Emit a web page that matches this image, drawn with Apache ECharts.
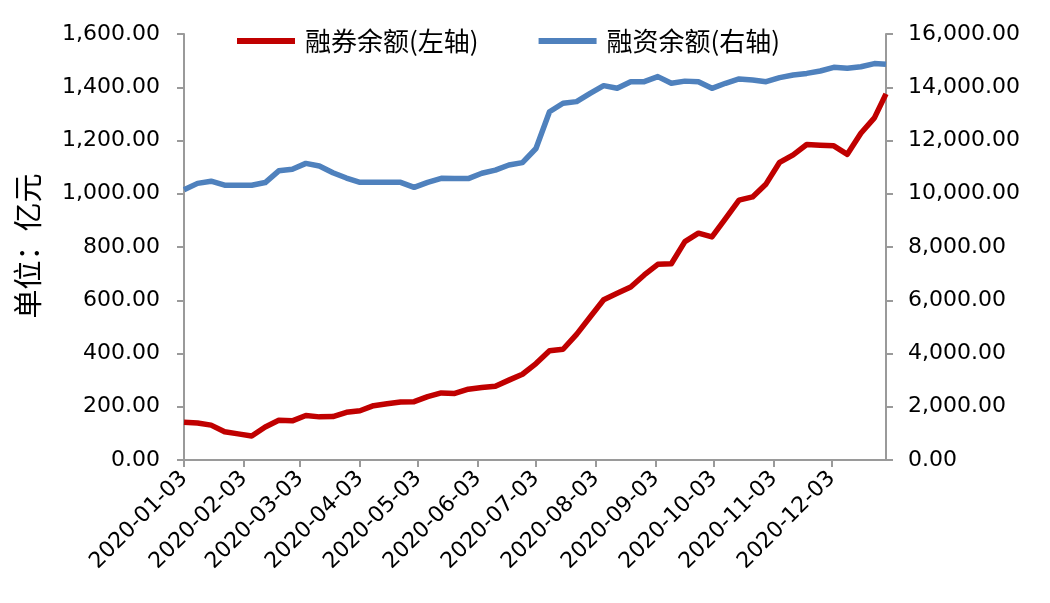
<!DOCTYPE html>
<html>
<head>
<meta charset="utf-8">
<script src="https://cdn.jsdelivr.net/npm/echarts@6/dist/echarts.min.js"></script>
<style>html,body{margin:0;padding:0;background:#fff;}#c{width:1050px;height:603px;}</style>
</head>
<body>
<div id="c"></div>
<script>
// Weekly observation dates
const dates = [
  '2020-01-03','2020-01-10','2020-01-17','2020-01-24','2020-01-31',
  '2020-02-07','2020-02-14','2020-02-21','2020-02-28',
  '2020-03-06','2020-03-13','2020-03-20','2020-03-27',
  '2020-04-03','2020-04-10','2020-04-17','2020-04-24',
  '2020-05-01','2020-05-08','2020-05-15','2020-05-22','2020-05-29',
  '2020-06-05','2020-06-12','2020-06-19','2020-06-26',
  '2020-07-03','2020-07-10','2020-07-17','2020-07-24','2020-07-31',
  '2020-08-07','2020-08-14','2020-08-21','2020-08-28',
  '2020-09-04','2020-09-11','2020-09-18','2020-09-25',
  '2020-10-02','2020-10-09','2020-10-16','2020-10-23','2020-10-30',
  '2020-11-06','2020-11-13','2020-11-20','2020-11-27',
  '2020-12-04','2020-12-11','2020-12-18','2020-12-25','2020-12-31'
];
// 融券余额 (left axis, 亿元)
const shortBalance = [
  142,139,131,106,98,
  90,124,149,147,
  167,162,163,179,
  185,204,211,218,
  219,238,252,250,266,
  272,277,300,322,
  362,410,416,472,537,
  602,626,650,695,
  735,737,820,852,
  838,907,976,988,1037,
  1118,1146,1185,1182,
  1180,1148,1227,1285,1375
];
// 融资余额 (right axis, 亿元)
const marginBalance = [
  10150,10390,10470,10320,10320,
  10320,10420,10860,10920,
  11140,11040,10790,10590,
  10430,10430,10430,10430,
  10240,10430,10580,10570,10570,
  10770,10890,11080,11170,
  11700,13080,13400,13460,13770,
  14060,13960,14210,14210,
  14400,14150,14230,14210,
  13960,14150,14310,14270,14210,
  14360,14460,14520,14610,
  14750,14710,14770,14890,14860
];
const seriesNames = ['融券余额(左轴)', '融资余额(右轴)'];
const yTitle = '单位：亿元';
const axisStart = '2020-01-03';
const axisEnd = '2020-12-31';

// daily category list for a date-like axis
const days = [];
(function(){
  let t = Date.parse(axisStart + 'T00:00:00Z');
  const end = Date.parse(axisEnd + 'T00:00:00Z');
  while (t <= end) { days.push(new Date(t).toISOString().slice(0,10)); t += 86400000; }
})();
const isTickDay = (idx, val) => val.slice(8) === '03';
const fmt = v => v.toLocaleString('en-US', {minimumFractionDigits: 2, maximumFractionDigits: 2});
const axisColor = '#9a9a9a';
const font = 'DejaVu Sans';

const chart = echarts.init(document.getElementById('c'), null, {renderer: 'canvas'});
chart.setOption({
  animation: false,
  backgroundColor: '#ffffff',
  grid: {left: 184, right: 164, top: 34, bottom: 143, containLabel: false},
  legend: {
    left: 232, top: 23,
    icon: 'rect', itemWidth: 58, itemHeight: 6, itemGap: 60,
    textStyle: {fontFamily: 'Noto Sans CJK SC', fontSize: 26, color: '#000', padding: [0,0,0,5]},
    data: seriesNames
  },
  graphic: [{
    type: 'text', x: 28, y: 246, rotation: Math.PI / 2,
    style: {text: yTitle, fontFamily: 'Noto Sans CJK SC', fontSize: 29, fill: '#000', align: 'center', verticalAlign: 'middle'}
  }],
  xAxis: {
    type: 'category', data: days, boundaryGap: false,
    axisLine: {lineStyle: {color: axisColor, width: 2}},
    axisTick: {show: true, interval: isTickDay, length: 7, lineStyle: {color: axisColor, width: 2}},
    axisLabel: {interval: isTickDay, rotate: 45, margin: 15, fontFamily: font, fontSize: 22, color: '#000'},
    splitLine: {show: false}
  },
  yAxis: [{
    type: 'value', min: 0, max: 1600, interval: 200, position: 'left',
    axisLine: {show: true, lineStyle: {color: axisColor, width: 2}},
    axisTick: {show: true, length: 7, lineStyle: {color: axisColor, width: 2}},
    axisLabel: {formatter: fmt, margin: 24, fontFamily: font, fontSize: 22, color: '#000'},
    splitLine: {show: false}
  }, {
    type: 'value', min: 0, max: 16000, interval: 2000, position: 'right',
    axisLine: {show: true, lineStyle: {color: axisColor, width: 2}},
    axisTick: {show: true, length: 7, lineStyle: {color: axisColor, width: 2}},
    axisLabel: {formatter: fmt, margin: 22, fontFamily: font, fontSize: 22, color: '#000'},
    splitLine: {show: false}
  }],
  series: [{
    name: seriesNames[0], type: 'line', yAxisIndex: 0,
    data: dates.map((d, i) => [d, shortBalance[i]]),
    showSymbol: false, symbol: 'none',
    lineStyle: {color: '#C00000', width: 5.5, join: 'round'},
    itemStyle: {color: '#C00000'},
    z: 3
  }, {
    name: seriesNames[1], type: 'line', yAxisIndex: 1,
    data: dates.map((d, i) => [d, marginBalance[i]]),
    showSymbol: false, symbol: 'none',
    lineStyle: {color: '#4F81BD', width: 5.5, join: 'round'},
    itemStyle: {color: '#4F81BD'},
    z: 2
  }]
});
</script>
</body>
</html>
